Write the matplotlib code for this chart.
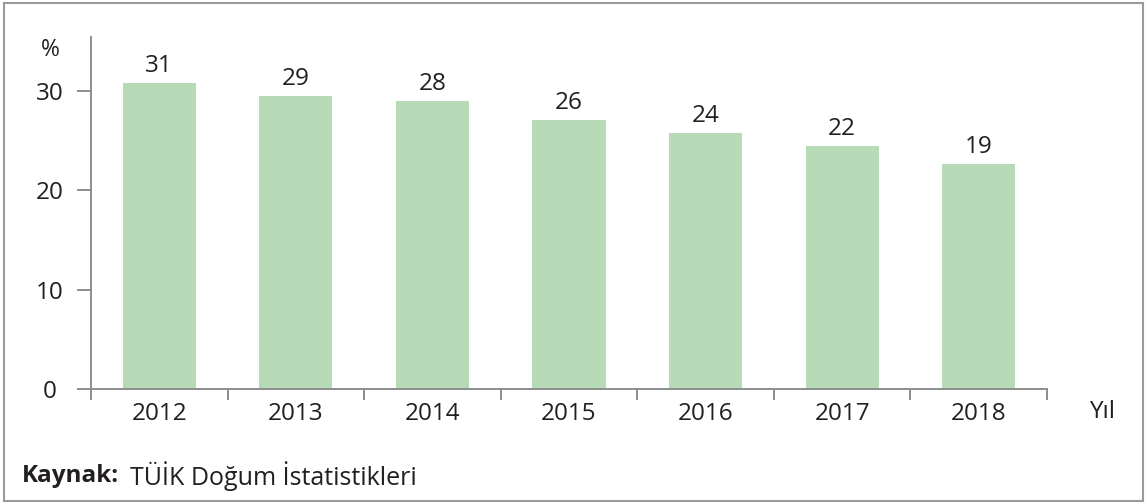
import matplotlib
matplotlib.use("Agg")
import matplotlib.pyplot as plt
from matplotlib.patches import Rectangle

years = ["2012", "2013", "2014", "2015", "2016", "2017", "2018"]
bar_heights = [30.8, 29.5, 29.0, 27.1, 25.7, 24.4, 22.6]
bar_labels = ["31", "29", "28", "26", "24", "22", "19"]
yticks = [0, 10, 20, 30]

plt.rcParams['font.family'] = ['Open Sans', 'DejaVu Sans']
text_color = "#231f20"
spine_color = "#8c8c8c"
bar_color = "#b7dbb6"
fs = 17.5

fig = plt.figure(figsize=(11.47, 5.04), dpi=100)
ax = fig.add_axes([91/1147, 1 - 389/504, (1047-91)/1147, (389-37)/504])

x = list(range(len(years)))
bars = ax.bar(x, bar_heights, width=0.535, color=bar_color, zorder=2)
for b, lab in zip(bars, bar_labels):
    ax.annotate(lab, (b.get_x() + b.get_width()/2, b.get_height()),
                xytext=(0, 5), textcoords="offset pixels",
                ha="center", va="bottom", fontsize=fs, color=text_color)

ax.set_xlim(-0.5, len(years) - 0.5)
ax.set_ylim(0, 35.4)
ax.set_yticks(yticks)
ax.set_yticklabels([str(t) for t in yticks])
ax.set_xticks(x)
ax.set_xticklabels(years)
ax.set_xticks([i - 0.5 for i in range(len(years) + 1)], minor=True)

for s in ["top", "right"]:
    ax.spines[s].set_visible(False)
for s in ["left", "bottom"]:
    ax.spines[s].set_color(spine_color)
    ax.spines[s].set_linewidth(1.4)

ax.tick_params(axis="y", length=10, width=1.4, color=spine_color, pad=19.5,
               labelsize=fs, labelcolor=text_color)
for lbl in ax.get_yticklabels():
    lbl.set_horizontalalignment("center")
ax.tick_params(axis="x", which="major", length=0, pad=9,
               labelsize=fs, labelcolor=text_color)
ax.tick_params(axis="x", which="minor", length=8, width=1.4, color=spine_color)

fig.text(50/1147, 1 - 50/504, "%", ha="center", va="center", fontsize=16.5, color=text_color)
fig.text(1102/1147, 1 - 412/504, "Yıl", ha="center", va="center", fontsize=fs, color=text_color)
fig.text(22/1147, 1 - 476/504, "Kaynak:", ha="left", va="center", fontsize=fs,
         fontweight="bold", color=text_color)
fig.text(130/1147, 1 - 476/504, "TÜİK Doğum İstatistikleri", ha="left", va="center",
         fontsize=fs + 0.5, color=text_color)

fig.add_artist(Rectangle((4/1147, 3/504), 1139/1147, 498/504, transform=fig.transFigure,
                         fill=False, edgecolor="#9a9a9a", linewidth=1.5))

fig.savefig("out.png", dpi=100)
